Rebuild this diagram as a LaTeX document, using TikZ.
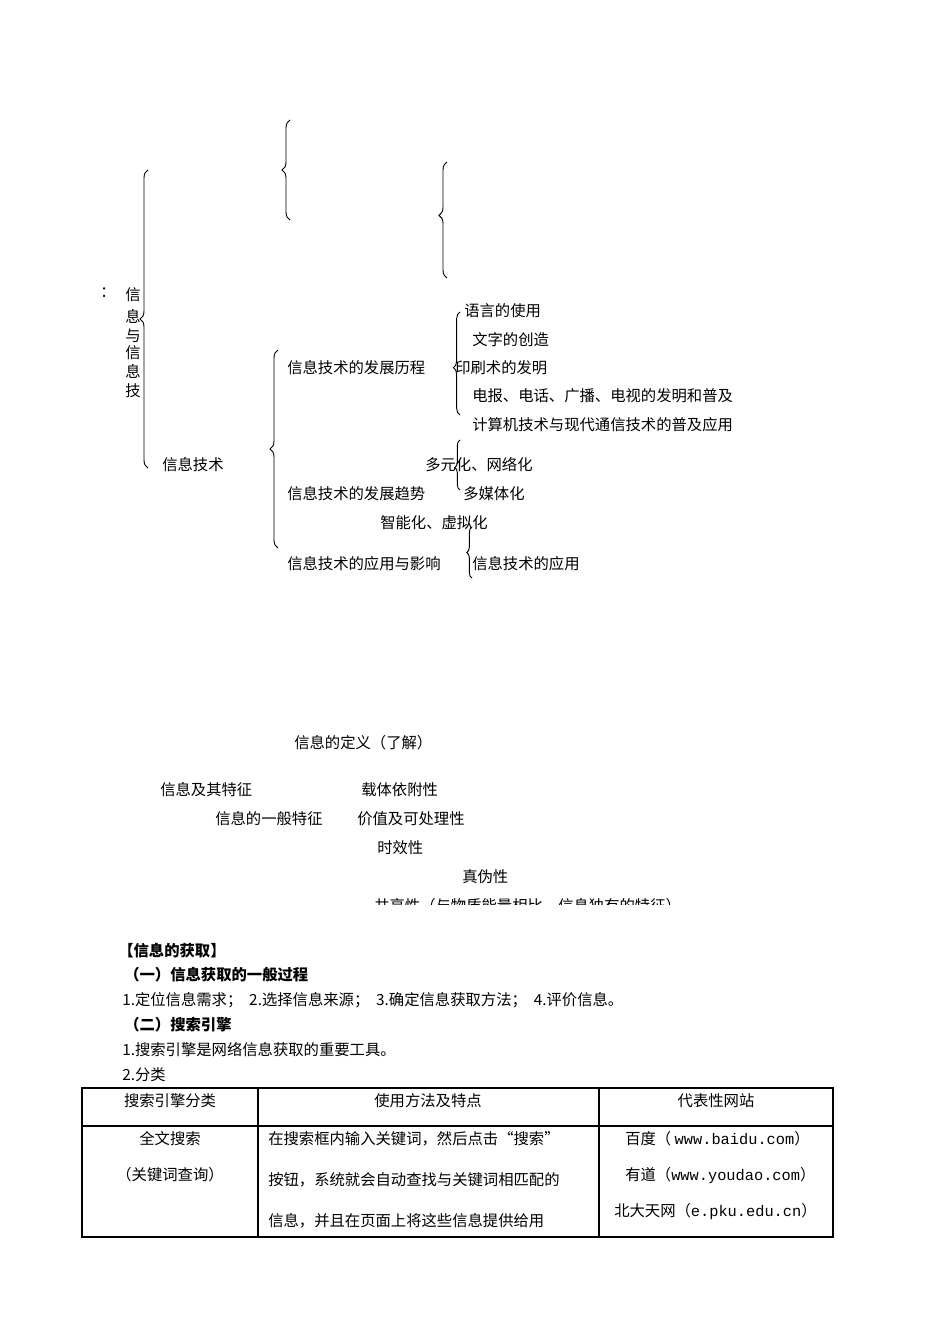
\documentclass[tikz,border=0pt]{standalone}
\usepackage{fontspec}
\setmainfont{Noto Sans CJK SC}
\newfontfamily\monof{Liberation Mono}
\usetikzlibrary{decorations.pathreplacing}
\begin{document}
\begin{tikzpicture}[x=0.75pt,y=-0.75pt,
  txt/.style={anchor=west,inner sep=0pt,font=\fontsize{11.5pt}{13pt}\selectfont},
  ctr/.style={inner sep=0pt,font=\fontsize{11.5pt}{13pt}\selectfont},
  bld/.style={txt,font=\fontsize{11.5pt}{13pt}\selectfont\bfseries},
  br/.style={decorate,decoration={brace,amplitude=#1},thick,line width=0.7pt}]
\useasboundingbox[fill=white] (0,0) rectangle (950,1344);
% braces
\draw[br=6pt,decoration={aspect=0.5}] (148,468) -- (148,170);
\draw[br=6pt,decoration={aspect=0.5}] (290,220) -- (290,120);
\draw[br=6pt,decoration={aspect=0.54}] (447,278) -- (447,162);
\draw[br=6pt,decoration={aspect=0.5}] (278,548) -- (278,350);
\draw[br=5pt,decoration={aspect=0.46}] (460,415) -- (460,312);
\draw[br=4pt,decoration={aspect=0.45}] (460,490) -- (460,440);
\draw[br=4pt,decoration={aspect=0.5}] (472,578) -- (472,527);
% texts
\node[ctr] (c0) at (108,293) {：};
\node[ctr] (v1) at (133,295) {信};
\node[ctr] (v2) at (133,316) {息};
\node[ctr] (v3) at (133,336) {与};
\node[ctr] (v4) at (133,353) {信};
\node[ctr] (v5) at (133,371) {息};
\node[ctr] (v6) at (133,391) {技};
\node[txt] (a1) at (162,465) {信息技术};
\node[txt] (a2) at (287,368) {信息技术的发展历程};
\node[txt] (a3) at (464,311) {语言的使用};
\node[txt] (a4) at (472,340) {文字的创造};
\node[txt] (a5) at (455,368) {印刷术的发明};
\node[txt] (a6) at (472,396) {电报、电话、广播、电视的发明和普及};
\node[txt] (a7) at (472,425) {计算机技术与现代通信技术的普及应用};
\node[txt] (a8) at (425,465) {多元化、网络化};
\node[txt] (a9) at (287,494) {信息技术的发展趋势};
\node[txt] (a10) at (463,494) {多媒体化};
\node[txt] (a11) at (380,523) {智能化、虚拟化};
\node[txt] (a12) at (287,564) {信息技术的应用与影响};
\node[txt] (a13) at (472,564) {信息技术的应用};
\node[txt] (b1) at (294,743) {信息的定义（了解）};
\node[txt] (b2) at (160,790) {信息及其特征};
\node[txt] (b3) at (361,790) {载体依附性};
\node[txt] (b4) at (215,819) {信息的一般特征};
\node[txt] (b5) at (357,819) {价值及可处理性};
\node[txt] (b6) at (377,848) {时效性};
\node[txt] (b7) at (462,877) {真伪性};
\begin{scope}
\clip (300,890) rectangle (760,904);
\node[txt] (b8) at (374,906) {共享性（与物质能量相比，信息独有的特征）};
\end{scope}
\node[bld] (h1) at (118,951) {【信息的获取】};
\node[bld] (h2) at (124,975) {（一）信息获取的一般过程};
\node[txt] (p1) at (122,1000) {1.定位信息需求；\ \ 2.选择信息来源；\ \ 3.确定信息获取方法；\ \ 4.评价信息。};
\node[bld] (h3) at (124,1025) {（二）搜索引擎};
\node[txt] (p2) at (122,1050) {1.搜索引擎是网络信息获取的重要工具。};
\node[txt] (p3) at (122,1075) {2.分类};
% table
\draw[line width=0.8pt] (82,1088) rectangle (833,1237);
\draw[line width=0.8pt] (82,1126) -- (833,1126);
\draw[line width=0.8pt] (258,1088) -- (258,1237);
\draw[line width=0.8pt] (599,1088) -- (599,1237);
\node[ctr] (t1) at (170,1101) {搜索引擎分类};
\node[ctr] (t2) at (428,1101) {使用方法及特点};
\node[ctr] (t3) at (716,1101) {代表性网站};
\node[ctr] (t4) at (170,1139) {全文搜索};
\node[ctr] (t5) at (170,1175) {（关键词查询）};
\node[txt] (t6) at (268,1139) {在搜索框内输入关键词，然后点击“搜索”};
\node[txt] (t7) at (268,1180) {按钮，系统就会自动查找与关键词相匹配的};
\node[txt] (t8) at (268,1221) {信息，并且在页面上将这些信息提供给用};
\node[txt] (t9) at (625,1139) {百度（ {\monof www.baidu.com}）};
\node[txt] (t10) at (625,1176) {有道（{\monof www.youdao.com}）};
\node[txt] (t11) at (614,1212) {北大天网（{\monof e.pku.edu.cn}）};
\end{tikzpicture}
\end{document}
